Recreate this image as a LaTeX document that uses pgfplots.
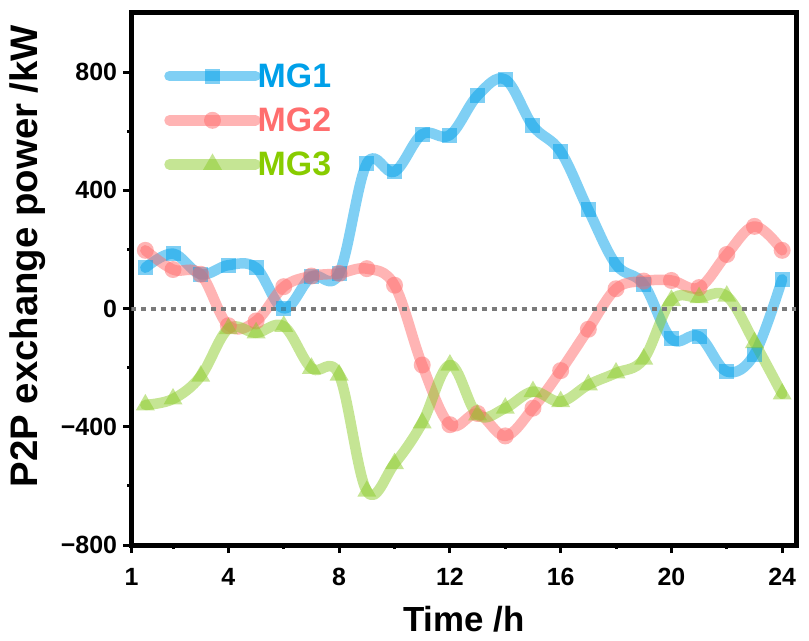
\documentclass[border=0pt]{standalone}
\usepackage{pgfplots}
\pgfplotsset{compat=1.18}
\usepackage{fontspec}
\setmainfont{Liberation Sans}
\definecolor{cA}{HTML}{00A0E9}
\definecolor{cB}{HTML}{FF6A6A}
\definecolor{cC}{HTML}{8CCB2A}
\definecolor{tA}{HTML}{00A0E9}
\definecolor{tB}{HTML}{FF6E6E}
\definecolor{tC}{HTML}{88CC00}
\definecolor{zl}{HTML}{7A7A7A}

\pgfplotstableread{
x mgA mgB mgC
1 138 197 -326
2 186 132 -306
3 116 116 -229
4 147 -58 -68
5 138 -42 -82
6 0 74 -60
7 108 110 -202
8 119 119 -225
9 491 135 -618
10 463 79 -525
11 590 -191 -387
12 587 -393 -191
13 721 -355 -360
14 775 -431 -337
15 618 -337 -281
16 531 -210 -315
17 334 -70 -258
18 149 67 -218
19 82 93 -171
20 -103 95 28
21 -94 71 37
22 -213 183 42
23 -154 278 -115
24 99 197 -289
}\datatable

\begin{document}
\begin{tikzpicture}
\begin{axis}[
 scale only axis, width=664.5bp, height=532bp,
 xmin=0.5, xmax=24.5, ymin=-800, ymax=1000,
 xtick={0.5,4,8,12,16,20,24}, xticklabels={1,4,8,12,16,20,24},
 minor xtick={2,6,10,14,18,22},
 ytick={-800,-400,0,400,800}, yticklabels={−800,−400,0,400,800},
 minor ytick={-600,-200,200,600},
 tick pos=left, tick align=outside,
 major tick length=8bp, minor tick length=4bp,
 tick style={black, line width=3bp},
 axis line style={line width=5bp},
 ticklabel style={font=\fontsize{25}{30}\selectfont\bfseries},
 xticklabel style={yshift=-12bp},
 yticklabel style={xshift=-3bp},
 xlabel={Time /h}, ylabel={P2P exchange power /kW},
 xlabel style={font=\fontsize{35}{40}\selectfont\bfseries, at={(axis description cs:0.5,-0.1617)}, anchor=base},
 ylabel style={font=\fontsize{38.5}{44}\selectfont\bfseries, at={(axis description cs:-0.157,0.543)}, anchor=center},
 legend style={draw=none, fill=none, at={(axis description cs:0.049,0.909)}, anchor=north west,
   font=\fontsize{34}{40}\selectfont\bfseries, row sep=15bp, inner sep=0pt, cells={anchor=west, inner xsep=0pt}},
 legend image code/.code={\draw[#1, sharp plot, mark repeat=2, mark phase=2] plot coordinates {(0bp,0bp) (43bp,0bp) (86bp,0bp)};},
]
\addplot[smooth, tension=0.6, draw=cA, line width=10.5bp, draw opacity=0.5, line cap=round, line join=round,
  mark=square*, mark size=7.5bp, mark options={fill=cA, draw opacity=0, fill opacity=0.5}] table[x=x, y=mgA] {\datatable};
\addlegendentry{\hspace{-5bp}\textcolor{tA}{MG1}}
\addplot[smooth, tension=0.6, draw=cB, line width=10.5bp, draw opacity=0.5, line cap=round, line join=round,
  mark=*, mark size=8.5bp, mark options={fill=cB, draw opacity=0, fill opacity=0.5}] table[x=x, y=mgB] {\datatable};
\addlegendentry{\hspace{-5bp}\textcolor{tB}{MG2}}
\addplot[smooth, tension=0.6, draw=cC, line width=10.5bp, draw opacity=0.5, line cap=round, line join=round,
  mark=triangle*, mark size=11bp, mark options={fill=cC, draw opacity=0, fill opacity=0.5}] table[x=x, y=mgC] {\datatable};
\addlegendentry{\hspace{-5bp}\textcolor{tC}{MG3}}
\addplot[forget plot, no marks, draw=zl, line width=4bp, line cap=butt, dash pattern=on 5bp off 5bp] coordinates {(0.5,0) (24.5,0)};
\coordinate (SW) at (rel axis cs:0,0);
\coordinate (NE) at (rel axis cs:1,1);
\end{axis}
\pgfresetboundingbox
\path[use as bounding box] ([xshift=-131.5bp,yshift=-96bp]SW) rectangle ([xshift=13bp,yshift=13bp]NE);
\end{tikzpicture}
\end{document}
